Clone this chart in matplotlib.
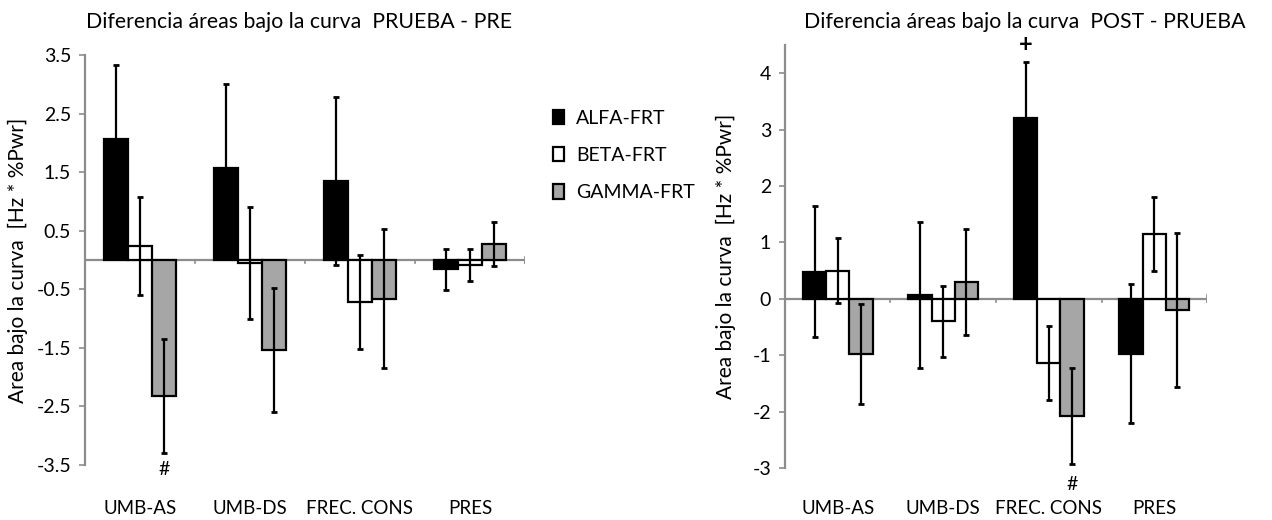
import matplotlib
matplotlib.use("Agg")
import matplotlib.pyplot as plt
import numpy as np

plt.rcParams['font.family'] = ['Lato', 'DejaVu Sans']

categories = ["UMB-AS", "UMB-DS", "FREC. CONS", "PRES"]
series = ["ALFA-FRT", "BETA-FRT", "GAMMA-FRT"]

# Panel 1: PRUEBA - PRE
pre_alfa = [2.06, 1.57, 1.35, -0.16]
pre_beta = [0.24, -0.05, -0.72, -0.09]
pre_gamma = [-2.32, -1.53, -0.66, 0.27]
pre_alfa_err = [1.27, 1.43, 1.43, 0.35]
pre_beta_err = [0.84, 0.96, 0.80, 0.27]
pre_gamma_err = [0.97, 1.06, 1.19, 0.38]

# Panel 2: POST - PRUEBA
post_alfa = [0.48, 0.07, 3.20, -0.97]
post_beta = [0.50, -0.40, -1.14, 1.15]
post_gamma = [-0.98, 0.30, -2.08, -0.20]
post_alfa_err = [1.16, 1.29, 1.00, 1.23]
post_beta_err = [0.57, 0.63, 0.65, 0.65]
post_gamma_err = [0.88, 0.94, 0.85, 1.37]

colors = ["#000000", "#ffffff", "#a6a6a6"]
GRAY = "#8c8c8c"

W, H = 1272, 520
fig = plt.figure(figsize=(W / 100, H / 100), dpi=100)


def px_axes(x0, x1, ytop, ybot):
    return fig.add_axes([x0 / W, 1 - ybot / H, (x1 - x0) / W, (ybot - ytop) / H])


def draw(ax, vals, errs, ylim, yticks, yticklabels, labelpad):
    x = np.arange(len(categories))
    width = 0.22
    offs = [-width, 0, width]
    handles = []
    for v, e, c, o, name in zip(vals, errs, colors, offs, series):
        b = ax.bar(x + o, v, width, color=c, edgecolor="black", linewidth=1.6,
                   label=name, zorder=2)
        handles.append(b)
        ax.errorbar(x + o, v, yerr=e, fmt="none", ecolor="black", elinewidth=1.6,
                    capsize=2, capthick=2, zorder=3)
    ax.set_xlim(-0.5, len(categories) - 0.5)
    ax.set_ylim(*ylim)
    ax.axhline(0, color=GRAY, lw=1.6, zorder=1)
    tick_len = (ylim[1] - ylim[0]) * 0.008
    for bnd in np.arange(0.5, len(categories), 1.0):
        ax.plot([bnd, bnd], [0, -tick_len], color=GRAY, lw=1.2, zorder=1)
    ax.plot([len(categories) - 0.5] * 2, [tick_len, -tick_len], color=GRAY, lw=1.2, zorder=1)
    for s in ["top", "right", "bottom"]:
        ax.spines[s].set_visible(False)
    ax.spines["left"].set_color(GRAY)
    ax.spines["left"].set_linewidth(1.6)
    ax.set_yticks(yticks)
    ax.set_yticklabels(yticklabels)
    ax.tick_params(axis="y", colors=GRAY, length=4, width=1.2, labelsize=14, labelcolor="black", pad=6)
    ax.set_xticks(x)
    ax.set_xticklabels(categories)
    ax.tick_params(axis="x", length=0, labelsize=13.5, pad=labelpad)
    ax.set_ylabel("Area bajo la curva  [Hz * %Pwr]", fontsize=15)
    return handles


ax1 = px_axes(85, 525, 55, 465)
h = draw(ax1, [pre_alfa, pre_beta, pre_gamma],
         [pre_alfa_err, pre_beta_err, pre_gamma_err],
         (-3.5, 3.5), [3.5, 2.5, 1.5, 0.5, -0.5, -1.5, -2.5, -3.5],
         ["3.5", "2.5", "1.5", "0.5", "-0.5", "-1.5", "-2.5", "-3.5"], 25)
ax1.yaxis.set_label_coords(-0.13, 0.5)
ax1.text(0.22, -3.58, "#", ha="center", va="center", fontsize=14,
         transform=ax1.transData, clip_on=False)

ax2 = px_axes(785, 1207, 45, 468)
draw(ax2, [post_alfa, post_beta, post_gamma],
     [post_alfa_err, post_beta_err, post_gamma_err],
     (-3, 4.5), [4, 3, 2, 1, 0, -1, -2, -3],
     ["4", "3", "2", "1", "0", "-1", "-2", "-3"], 23)
ax2.yaxis.set_label_coords(-0.115, 0.5)
ax2.text(2 + 0.22, -3.3, "#", ha="center", va="center", fontsize=14, clip_on=False)
ax2.text(2 - 0.22, 4.5, "+", ha="center", va="center", fontsize=17, fontweight="bold",
         clip_on=False)

fig.text(299 / W, 1 - 22 / H, "Diferencia áreas bajo la curva  PRUEBA - PRE",
         ha="center", va="center", fontsize=15.3)
fig.text(1025 / W, 1 - 22 / H, "Diferencia áreas bajo la curva  POST - PRUEBA",
         ha="center", va="center", fontsize=15.3)

fig.legend(handles=h, labels=series, loc="upper left",
           bbox_to_anchor=(535 / W, 1 - 92 / H), frameon=False, fontsize=14,
           handlelength=0.6, handleheight=0.75, handletextpad=0.6, labelspacing=1.05)

fig.savefig("out.png", dpi=100)
